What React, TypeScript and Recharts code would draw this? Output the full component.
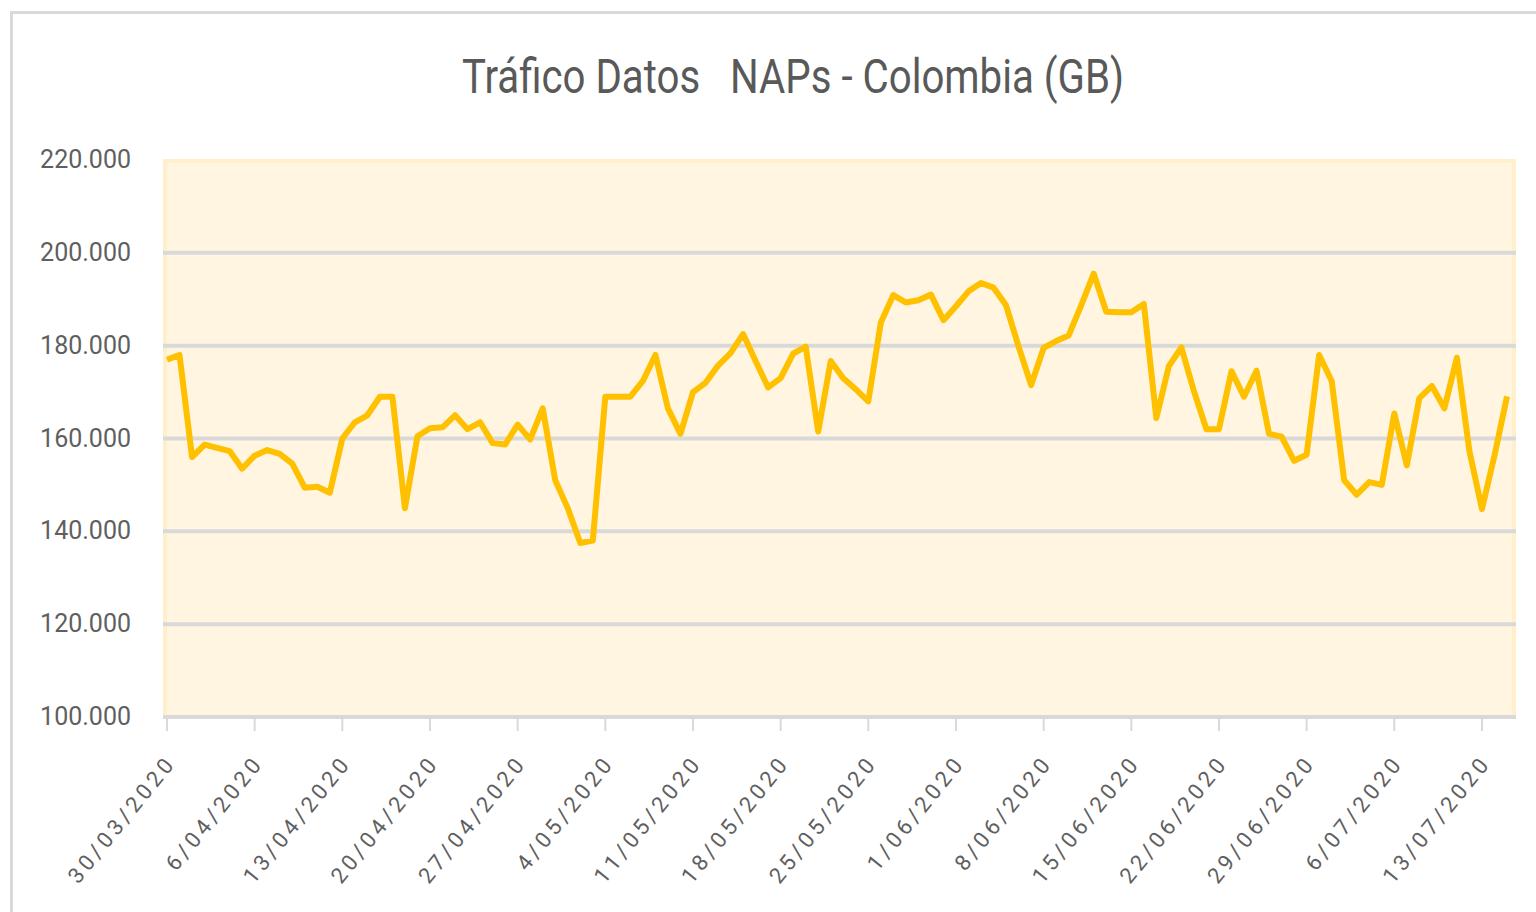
import React from "react";
import { LineChart, Line, XAxis, YAxis, CartesianGrid } from "recharts";

// daily dates (dd/mm/yyyy as shown on the axis)
const dates = [
  "30/03/2020", "31/03/2020",
  "1/04/2020", "2/04/2020", "3/04/2020", "4/04/2020", "5/04/2020", "6/04/2020", "7/04/2020", "8/04/2020", "9/04/2020", "10/04/2020",
  "11/04/2020", "12/04/2020", "13/04/2020", "14/04/2020", "15/04/2020", "16/04/2020", "17/04/2020", "18/04/2020", "19/04/2020", "20/04/2020",
  "21/04/2020", "22/04/2020", "23/04/2020", "24/04/2020", "25/04/2020", "26/04/2020", "27/04/2020", "28/04/2020", "29/04/2020", "30/04/2020",
  "1/05/2020", "2/05/2020", "3/05/2020", "4/05/2020", "5/05/2020", "6/05/2020", "7/05/2020", "8/05/2020", "9/05/2020", "10/05/2020",
  "11/05/2020", "12/05/2020", "13/05/2020", "14/05/2020", "15/05/2020", "16/05/2020", "17/05/2020", "18/05/2020", "19/05/2020", "20/05/2020",
  "21/05/2020", "22/05/2020", "23/05/2020", "24/05/2020", "25/05/2020", "26/05/2020", "27/05/2020", "28/05/2020", "29/05/2020", "30/05/2020", "31/05/2020",
  "1/06/2020", "2/06/2020", "3/06/2020", "4/06/2020", "5/06/2020", "6/06/2020", "7/06/2020", "8/06/2020", "9/06/2020", "10/06/2020",
  "11/06/2020", "12/06/2020", "13/06/2020", "14/06/2020", "15/06/2020", "16/06/2020", "17/06/2020", "18/06/2020", "19/06/2020", "20/06/2020",
  "21/06/2020", "22/06/2020", "23/06/2020", "24/06/2020", "25/06/2020", "26/06/2020", "27/06/2020", "28/06/2020", "29/06/2020", "30/06/2020",
  "1/07/2020", "2/07/2020", "3/07/2020", "4/07/2020", "5/07/2020", "6/07/2020", "7/07/2020", "8/07/2020", "9/07/2020", "10/07/2020",
  "11/07/2020", "12/07/2020", "13/07/2020", "14/07/2020", "15/07/2020",
];

// traffic in GB
const traficoGB = [
  177000, 178000, 156000, 158700, 158000, 157300, 153500, 156300, 157500, 156700,
  154600, 149400, 149600, 148300, 160000, 163500, 165000, 169000, 169000, 145000,
  160500, 162200, 162400, 165000, 162000, 163500, 159000, 158700, 163000, 159800,
  166500, 151000, 145000, 137500, 138000, 169000, 169000, 169000, 172400, 178000,
  166500, 161000, 170000, 172000, 175700, 178400, 182500, 176700, 171000, 173000,
  178300, 179800, 161500, 176700, 173000, 170600, 168000, 185000, 190900, 189300,
  189800, 191000, 185500, 188500, 191700, 193500, 192500, 188700, 179800, 171500,
  179500, 181000, 182200, 188700, 195500, 187300, 187200, 187200, 189000, 164400,
  175600, 179600, 170200, 162000, 162000, 174500, 169000, 174600, 161000, 160400,
  155200, 156500, 178000, 172400, 151000, 147900, 150600, 150000, 165400, 154200,
  168700, 171300, 166500, 177400, 157300, 144800, 156300, 169100,
];

const yTicks = [100000, 120000, 140000, 160000, 180000, 200000, 220000];
const gridValues = [120000, 140000, 160000, 180000, 200000];

const title = "Tráfico Datos   NAPs - Colombia (GB)";

const fmt = (v: number) => `${Math.floor(v / 1000)}.${String(v % 1000).padStart(3, "0")}`;

const YTick = ({ x, y, payload }: any) => (
  <text x={x} y={y} dy={8} textAnchor="end" fontSize={25} fill="#5f5f5f" fontFamily="Roboto">
    {fmt(payload.value)}
  </text>
);

const XTick = ({ x, y, payload }: any) => (
  <text
    transform={`translate(${x + 10},${y + 30}) rotate(-51)`}
    textAnchor="end"
    fontSize={22}
    letterSpacing={4}
    fill="#5f5f5f"
    fontFamily="Roboto"
  >
    {payload.value}
  </text>
);

export default function App() {
  const data = dates.map((d, i) => ({ date: d, trafico: traficoGB[i] }));

  return (
    <div style={{ position: "relative", width: 1536, height: 912, overflow: "hidden", background: "#fff" }}>
      <style>{`body{margin:0;overflow:hidden}`}</style>
      {/* chart frame */}
      <div style={{ position: "absolute", left: 10, top: 11, width: 1600, height: 1000, border: "3px solid #d9d9d9" }} />
      {/* plot area */}
      <div
        style={{
          position: "absolute", left: 163, top: 159, width: 1353, height: 558,
          boxSizing: "border-box", background: "#FFF5E1", border: "4px solid #FFEFCB", borderBottom: "none",
        }}
      />
      <svg width={1536} height={120} style={{ position: "absolute", left: 0, top: 0 }}>
        <text
          x={462} y={93} fontSize={48} fill="#595959" fontFamily="Roboto"
          textLength={662} lengthAdjust="spacingAndGlyphs" style={{ whiteSpace: "pre" }}
        >
          {title}
        </text>
      </svg>
      <div style={{ position: "absolute", left: 0, top: 0 }}>
        <LineChart width={1536} height={912} data={data} margin={{ top: 160, right: 20, left: 0, bottom: 0 }}>
          <CartesianGrid vertical={false} stroke="#d9d9d9" strokeWidth={4} horizontalValues={gridValues} />
          <XAxis
            dataKey="date"
            interval={6}
            height={195}
            padding={{ left: 4, right: 9 }}
            axisLine={{ stroke: "#d9d9d9", strokeWidth: 4 }}
            tickLine={{ stroke: "#d9d9d9", strokeWidth: 2 }}
            tickSize={14}
            tick={<XTick />}
          />
          <YAxis
            width={163}
            domain={[100000, 220000]}
            ticks={yTicks}
            axisLine={false}
            tickLine={false}
            tickSize={0}
            tickMargin={32}
            tick={<YTick />}
          />
          <Line
            type="linear"
            dataKey="trafico"
            stroke="#FFC000"
            strokeWidth={6}
            strokeLinejoin="round"
            dot={false}
            isAnimationActive={false}
          />
        </LineChart>
      </div>
    </div>
  );
}
